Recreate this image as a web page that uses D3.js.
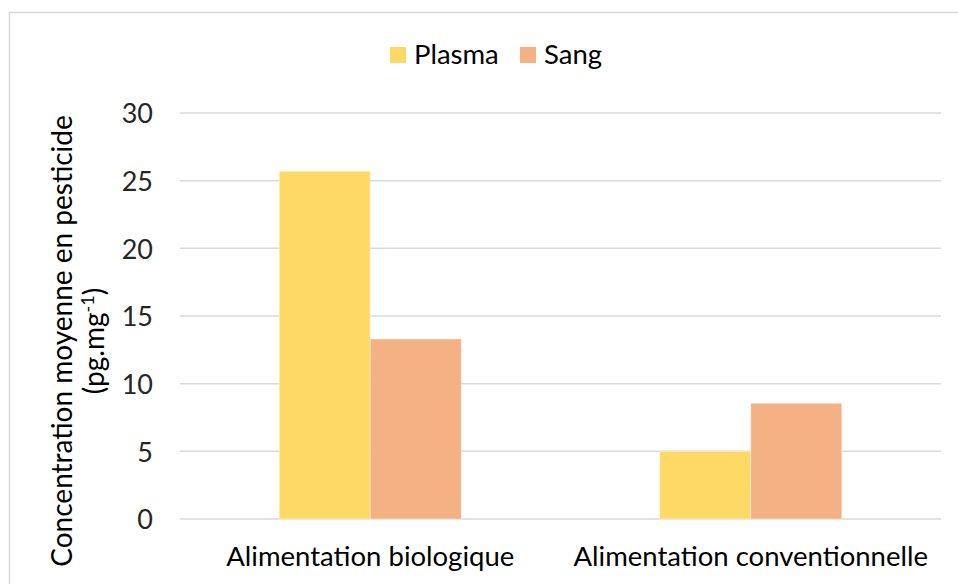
<!DOCTYPE html>
<html><head><meta charset="utf-8">
<script src="https://cdn.jsdelivr.net/npm/d3@7"></script>
<style>body{margin:0;background:#fff;}svg{display:block;font-family:Lato,"Open Sans",sans-serif;}</style>
</head><body>
<svg id="c" width="958" height="584"></svg>
<script>
const categories = ["Alimentation biologique", "Alimentation conventionnelle"];
const seriesNames = ["Plasma", "Sang"];
const plasmaValues = [25.7, 5.0];
const sangValues = [13.3, 8.55];
const yTicks = [0, 5, 10, 15, 20, 25, 30];
const colors = ["#FFD966", "#F4B183"];

const svg = d3.select("#c");
// frame
svg.append("rect").attr("x", 9.5).attr("y", 12.5).attr("width", 960).attr("height", 600)
  .attr("fill", "none").attr("stroke", "#d9d9d9").attr("stroke-width", 1.5);

const x0 = d3.scaleBand().domain(categories).range([180, 941]);
const x1 = d3.scaleBand().domain(seriesNames).range([0, x0.bandwidth()]).paddingOuter(1.09);
const y = d3.scaleLinear().domain([0, 30]).range([519, 113]);

// grid
svg.append("g").selectAll("line").data(yTicks).join("line")
  .attr("x1", 180).attr("x2", 941).attr("y1", d => y(d)).attr("y2", d => y(d))
  .attr("stroke", "#d9d9d9").attr("stroke-width", 1.5);

// y axis labels
const yAxis = d3.axisLeft(y).tickValues(yTicks).tickSize(0).tickPadding(0);
const ga = svg.append("g").attr("transform", "translate(153,0)").call(yAxis);
ga.select(".domain").remove();
ga.selectAll("text").attr("font-size", 27).attr("fill", "#262626").attr("dy", "0.36em")
  .attr("font-family", "Lato,'Open Sans',sans-serif");

const data = categories.map((c, i) => ({cat: c, vals: [plasmaValues[i], sangValues[i]]}));
const groups = svg.append("g").selectAll("g").data(data).join("g")
  .attr("transform", d => `translate(${x0(d.cat)},0)`);
groups.selectAll("rect").data(d => d.vals.map((v, j) => ({s: seriesNames[j], v, j}))).join("rect")
  .attr("x", d => x1(d.s)).attr("width", x1.bandwidth())
  .attr("y", d => y(d.v)).attr("height", d => y(0) - y(d.v))
  .attr("fill", d => colors[d.j]).attr("stroke", "#fff").attr("stroke-opacity", 0.4).attr("stroke-width", 1);

// x labels
svg.append("g").selectAll("text").data(categories).join("text")
  .attr("x", d => x0(d) + x0.bandwidth() / 2).attr("y", 566)
  .attr("text-anchor", "middle").attr("font-size", 27.5).attr("fill", "#000").text(d => d);

// legend
const legX = [390, 520];
const leg = svg.append("g").selectAll("g").data(seriesNames).join("g")
  .attr("transform", (d, i) => `translate(${legX[i]},0)`);
leg.append("rect").attr("x", 0).attr("y", 47).attr("width", 16).attr("height", 16).attr("fill", (d, i) => colors[i]);
leg.append("text").attr("x", 24).attr("y", 64).attr("font-size", 27.5).attr("fill", "#000").text(d => d);

// y title
const t = svg.append("g").attr("transform", "translate(0,341) rotate(-90)");
t.append("text").attr("x", 0).attr("y", 72).attr("text-anchor", "middle").attr("font-size", 28).attr("fill", "#000")
  .text("Concentration moyenne en pesticide");
const t2 = t.append("text").attr("x", 0).attr("y", 104).attr("text-anchor", "middle").attr("font-size", 28).attr("fill", "#000");
t2.append("tspan").text("(pg.mg");
t2.append("tspan").attr("dy", -10).attr("font-size", 18).text("-1");
t2.append("tspan").attr("dy", 10).text(")");
</script>
</body></html>
